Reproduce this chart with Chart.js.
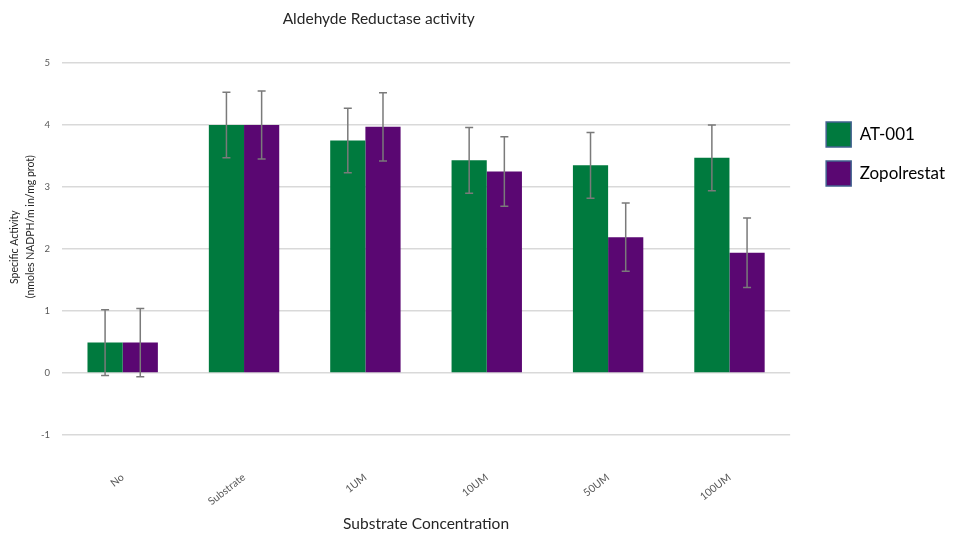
<!DOCTYPE html>
<html>
<head>
<meta charset="utf-8">
<script src="https://cdn.jsdelivr.net/npm/chart.js@4/dist/chart.umd.min.js"></script>
<style>
  html, body { margin: 0; padding: 0; background: #ffffff; }
  #wrap { width: 963px; height: 535px; position: relative; }
</style>
</head>
<body>
<div id="wrap"><canvas id="c"></canvas></div>
<script>
// Aldehyde reductase specific activity by substrate concentration
const categories = ['No', 'Substrate', '1UM', '10UM', '50UM', '100UM'];
const seriesNames = ['AT-001', 'Zopolrestat'];
const at001Values = [0.49, 4.00, 3.75, 3.43, 3.35, 3.47];
const at001Errors = [0.53, 0.53, 0.52, 0.53, 0.53, 0.53];
const zopolValues = [0.49, 4.00, 3.97, 3.25, 2.19, 1.94];
const zopolErrors = [0.55, 0.55, 0.55, 0.56, 0.55, 0.56];
const yTicks = [-1, 0, 1, 2, 3, 4, 5];
const chartTitle = 'Aldehyde Reductase activity';
const xTitle = 'Substrate Concentration';
const yTitle = ['Specific Activity', '(nmoles NADPH/m in/mg prot)'];

const GREEN = '#007A3E';
const PURPLE = '#5A0772';
const FONT = 'Lato, "Open Sans", "Liberation Sans", sans-serif';

// symmetric error bars with caps, drawn through the y scale
const errorBars = {
  id: 'errorBars',
  afterDatasetsDraw(chart) {
    const ctx = chart.ctx;
    const y = chart.scales.y;
    ctx.save();
    ctx.strokeStyle = '#7a7a7a';
    ctx.lineWidth = 1.5;
    chart.data.datasets.forEach((ds, i) => {
      const meta = chart.getDatasetMeta(i);
      meta.data.forEach((bar, j) => {
        const v = ds.data[j], e = ds.errors[j];
        const top = y.getPixelForValue(v + e);
        const bot = y.getPixelForValue(v - e);
        const cap = 4;
        ctx.beginPath();
        ctx.moveTo(bar.x, top); ctx.lineTo(bar.x, bot);
        ctx.moveTo(bar.x - cap, top); ctx.lineTo(bar.x + cap, top);
        ctx.moveTo(bar.x - cap, bot); ctx.lineTo(bar.x + cap, bot);
        ctx.stroke();
      });
    });
    ctx.restore();
  }
};

// chart heading and the two-line value-axis caption
const captions = {
  id: 'captions',
  afterDraw(chart) {
    const ctx = chart.ctx;
    const area = chart.chartArea;
    const h = area.bottom - area.top;
    ctx.save();
    ctx.fillStyle = '#262626';
    ctx.textAlign = 'center';
    ctx.textBaseline = 'middle';
    ctx.font = '15.5px ' + FONT;
    ctx.fillText(chartTitle, area.left + (area.right - area.left) * 0.435, 19);

    ctx.font = '10.5px ' + FONT;
    [[0.495, 15], [0.44, 31]].forEach(([f, x], k) => {
      ctx.save();
      ctx.translate(x, area.top + h * f);
      ctx.rotate(-Math.PI / 2);
      ctx.fillText(yTitle[k], 0, 0);
      ctx.restore();
    });
    ctx.restore();
  }
};

// move the legend block away from the plot edge and down
const legendOffset = {
  id: 'legendOffset',
  afterLayout(chart) {
    const lg = chart.legend;
    if (!lg) return;
    lg.left += 22; lg.right += 22;
    lg.top += 45; lg.bottom += 45;
  }
};

new Chart(document.getElementById('c'), {
  type: 'bar',
  data: {
    labels: categories,
    datasets: [
      { label: seriesNames[0], data: at001Values, errors: at001Errors, backgroundColor: GREEN },
      { label: seriesNames[1], data: zopolValues, errors: zopolErrors, backgroundColor: PURPLE }
    ]
  },
  options: {
    responsive: true,
    maintainAspectRatio: false,
    animation: false,
    layout: { padding: { top: 63, right: 30, bottom: 0, left: 0 } },
    datasets: { bar: { categoryPercentage: 0.58, barPercentage: 1.0 } },
    scales: {
      x: {
        afterFit(scale) { scale.paddingLeft = 0; scale.height = 100; },
        grid: { display: false },
        border: { display: false },
        ticks: {
          color: '#595959',
          font: { family: FONT, size: 10.5 },
          minRotation: 38, maxRotation: 38,
          padding: 28
        },
        title: {
          display: true, text: xTitle, color: '#262626',
          font: { family: FONT, size: 15.5 },
          padding: { top: 0, bottom: 2 }
        }
      },
      y: {
        min: -1, max: 5,
        afterBuildTicks(scale) { scale.ticks = yTicks.map(v => ({ value: v })); },
        afterFit(scale) { scale.width = 62; },
        grid: { color: '#d9d9d9', lineWidth: 1.5, drawTicks: false },
        border: { display: false },
        ticks: { color: '#595959', font: { family: FONT, size: 9.5 }, padding: 12 },
        title: { display: false }
      }
    },
    plugins: {
      title: { display: false },
      tooltip: { enabled: false },
      legend: {
        position: 'right', align: 'start',
        labels: {
          color: '#262626',
          font: { family: FONT, size: 17 },
          boxWidth: 25, boxHeight: 25, padding: 14,
          generateLabels(chart) {
            return chart.data.datasets.map((ds, i) => ({
              text: ds.label, fillStyle: ds.backgroundColor,
              strokeStyle: '#41618f', lineWidth: 1.5, datasetIndex: i, hidden: false
            }));
          }
        }
      }
    }
  },
  plugins: [errorBars, captions, legendOffset]
});
</script>
</body>
</html>
